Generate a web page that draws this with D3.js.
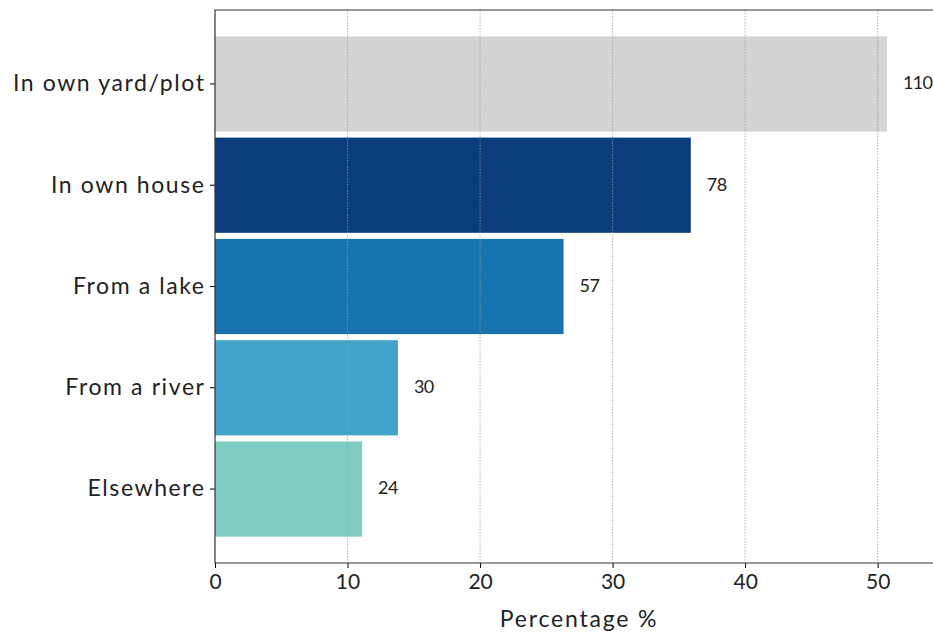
<!DOCTYPE html>
<html>
<head>
<meta charset="utf-8">
<script src="https://cdn.jsdelivr.net/npm/d3@7"></script>
<style>
  body { margin: 0; background: #fff; }
  svg text { font-family: "Lato", "DejaVu Sans", sans-serif; fill: #222; }
</style>
</head>
<body>
<svg id="chart" width="933" height="632"></svg>
<script>
// data
const categories = ["In own yard/plot", "In own house", "From a lake", "From a river", "Elsewhere"];
const percentages = [50.7, 35.9, 26.3, 13.8, 11.1];
const counts = [110, 78, 57, 30, 24];
const barColors = ["#d3d3d3", "#0b3c7d", "#1874b1", "#43a4cb", "#7ecbc2"];
const xTicks = [0, 10, 20, 30, 40, 50];

const svg = d3.select("#chart");
const plotLeft = 215, plotRight = 934, plotTop = 10, plotBottom = 563;

const x = d3.scaleLinear().domain([0, 54.25]).range([plotLeft, plotRight]);
const y = d3.scaleBand().domain(categories).range([plotTop, plotBottom])
    .paddingInner(0.06).paddingOuter(0.26);

// bars
svg.append("g").selectAll("rect")
    .data(categories)
    .join("rect")
    .attr("x", x(0))
    .attr("y", d => y(d))
    .attr("width", (d, i) => x(percentages[i]) - x(0))
    .attr("height", y.bandwidth())
    .attr("fill", (d, i) => barColors[i]);

// grid, on top of bars
svg.append("g").selectAll("line")
    .data(xTicks.slice(1))
    .join("line")
    .attr("x1", d => x(d)).attr("x2", d => x(d))
    .attr("y1", plotTop).attr("y2", plotBottom)
    .attr("stroke", "#999")
    .attr("stroke-width", 0.8)
    .attr("stroke-dasharray", "1.5,1.5");

// value labels
svg.append("g").selectAll("text")
    .data(categories)
    .join("text")
    .attr("x", (d, i) => x(percentages[i]) + 16)
    .attr("y", d => y(d) + y.bandwidth() / 2)
    .attr("dy", "0.3em")
    .style("font-size", "18px")
    .style("letter-spacing", "-0.6px")
    .text((d, i) => counts[i]);

// axes
const xAxis = svg.append("g")
    .attr("transform", `translate(0,${plotBottom})`)
    .call(d3.axisBottom(x).tickValues(xTicks).tickSize(5).tickPadding(6));
xAxis.select(".domain").remove();
xAxis.selectAll("text").style("font-size", "21px");

const yAxis = svg.append("g")
    .attr("transform", `translate(${plotLeft},0)`)
    .call(d3.axisLeft(y).tickSize(5).tickPadding(6));
yAxis.select(".domain").remove();
yAxis.selectAll("text")
    .style("font-size", "23px")
    .style("letter-spacing", "1.6px")
    .attr("dx", "1.6px");

// spines
svg.append("path")
    .attr("d", `M${plotRight},${plotTop}H${plotLeft}V${plotBottom}H${plotRight}`)
    .attr("fill", "none")
    .attr("stroke", "#333")
    .attr("stroke-width", 1.2);

svg.append("text")
    .attr("x", 579)
    .attr("y", 627)
    .attr("text-anchor", "middle")
    .style("font-size", "23px")
    .style("letter-spacing", "1.8px")
    .text("Percentage %");
</script>
</body>
</html>
